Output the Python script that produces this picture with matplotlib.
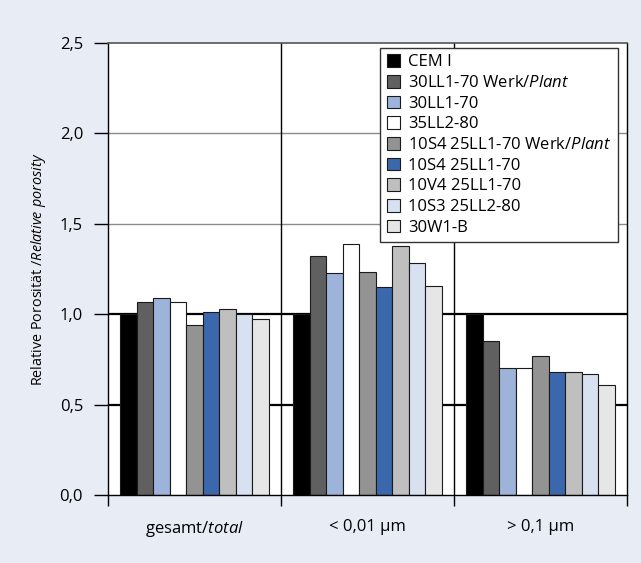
import matplotlib
matplotlib.use("Agg")
import matplotlib.pyplot as plt
import numpy as np
from matplotlib.patches import Patch

plt.rcParams['font.family'] = ['Open Sans', 'DejaVu Sans']
plt.rcParams['mathtext.fontset'] = 'custom'
plt.rcParams['mathtext.rm'] = 'Open Sans'
plt.rcParams['mathtext.it'] = 'Open Sans:italic'

# Pore classes on the x axis
categories = ["gesamt/$\\mathit{total}$", "< 0,01 µm", "> 0,1 µm"]

# Cement types (legend entries)
series_names = [
    "CEM I",
    "30LL1-70 Werk/$\\mathit{Plant}$",
    "30LL1-70",
    "35LL2-80",
    "10S4 25LL1-70 Werk/$\\mathit{Plant}$",
    "10S4 25LL1-70",
    "10V4 25LL1-70",
    "10S3 25LL2-80",
    "30W1-B",
]

# Relative porosity per cement type, one value per pore class
cem_i        = [1.00, 1.00, 1.00]
ll1_70_plant = [1.07, 1.32, 0.85]
ll1_70       = [1.09, 1.23, 0.70]
ll2_80       = [1.07, 1.39, 0.70]
s4_ll_plant  = [0.94, 1.235, 0.77]
s4_ll        = [1.01, 1.15, 0.68]
v4_ll        = [1.03, 1.375, 0.68]
s3_ll2       = [1.00, 1.285, 0.67]
w1_b         = [0.975, 1.155, 0.61]

series_values = [cem_i, ll1_70_plant, ll1_70, ll2_80, s4_ll_plant,
                 s4_ll, v4_ll, s3_ll2, w1_b]

colors = ["#000000", "#606060", "#9db3da", "#ffffff", "#939393",
          "#3b68ac", "#bfbfbf", "#d7e1f0", "#e6e6e6"]

yticks = [0.0, 0.5, 1.0, 1.5, 2.0, 2.5]
ytick_labels = ["0,0", "0,5", "1,0", "1,5", "2,0", "2,5"]

bg = "#e8edf5"
fig = plt.figure(figsize=(6.41, 5.63), dpi=100, facecolor=bg)
ax = fig.add_axes([0.1685, 0.1208, 0.8097, 0.8028])
ax.set_facecolor("white")

x = np.arange(len(categories))
n = len(series_values)
w = 1.0 / 10.5

# reference lines behind the bars
for yv in (1.5, 2.0):
    ax.axhline(yv, color="#8a8a8a", lw=1.0, zorder=0)
for yv in (0.5, 1.0):
    ax.axhline(yv, color="black", lw=1.6, zorder=0)
for xv in (0.5, 1.5):
    ax.axvline(xv, color="black", lw=1.0, zorder=0)

for j, (vals, col) in enumerate(zip(series_values, colors)):
    ax.bar(x + (j - (n - 1) / 2) * w, vals, width=w, color=col,
           edgecolor="#1a1a1a", linewidth=0.8, zorder=2)

ax.set_xlim(-0.5, 2.5)
ax.set_ylim(0, 2.5)

ax.set_yticks(yticks)
ax.set_yticklabels(ytick_labels, fontsize=12)
ax.tick_params(axis="y", direction="out", length=10, width=1.0, pad=8)

ax.set_xticks(x)
ax.set_xticklabels(categories, fontsize=12)
ax.tick_params(axis="x", which="major", length=0, pad=17)
ax.set_xticks([-0.5, 0.5, 1.5, 2.5], minor=True)
ax.tick_params(axis="x", which="minor", direction="out", length=8, width=1.0)

for side in ("left", "bottom", "right"):
    ax.spines[side].set_color("black")
    ax.spines[side].set_linewidth(1.0)
ax.spines["top"].set_color("#555555")
ax.spines["top"].set_linewidth(1.2)

ax.set_ylabel("Relative Porosität /$\\mathit{Relative\\ porosity}$",
              fontsize=10.4, labelpad=8)

handles = [Patch(facecolor=c, edgecolor="#1a1a1a", linewidth=0.8) for c in colors]
leg = ax.legend(handles, series_names, loc="upper right",
                bbox_to_anchor=(0.983, 0.989), borderaxespad=0,
                fontsize=12, frameon=True, fancybox=False,
                handlelength=0.8, handleheight=0.8, handletextpad=0.5,
                labelspacing=0.27, borderpad=0.38, framealpha=1)
leg.get_frame().set_edgecolor("#333333")
leg.get_frame().set_linewidth(1.0)
leg.set_zorder(5)

fig.savefig("out.png", dpi=100, facecolor=bg)
